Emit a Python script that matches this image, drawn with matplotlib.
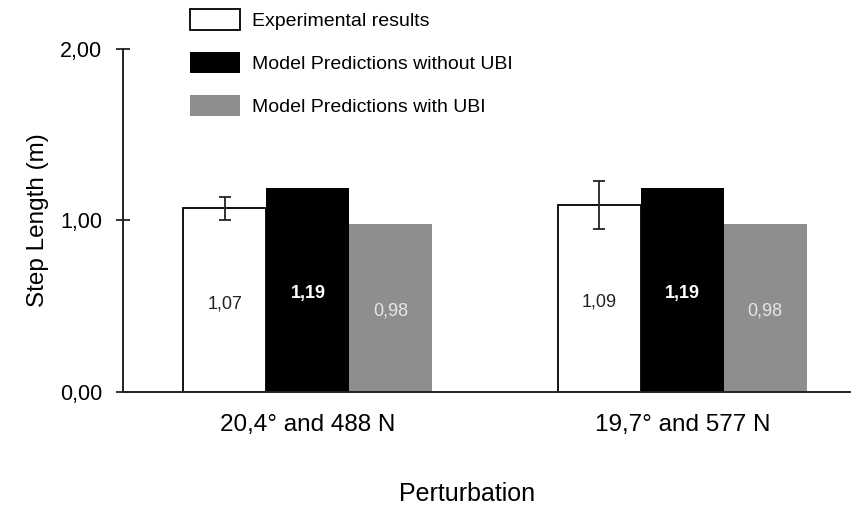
import numpy as np
import matplotlib
matplotlib.use("Agg")
import matplotlib.pyplot as plt
from matplotlib.patches import Patch

plt.rcParams['font.family'] = ['Liberation Sans', 'DejaVu Sans']

groups = ["20,4° and 488 N", "19,7° and 577 N"]
series = ["Experimental results", "Model Predictions without UBI", "Model Predictions with UBI"]
experimental = [1.07, 1.09]
experimental_err = [0.065, 0.14]
no_ubi = [1.19, 1.19]
with_ubi = [0.98, 0.98]
value_text = [["1,07", "1,09"], ["1,19", "1,19"], ["0,98", "0,98"]]

fig = plt.figure(figsize=(8.6, 5.09), dpi=100)
ax = fig.add_axes([0.143, 0.23, 0.845, 0.6737])

x = np.arange(len(groups))
w = 0.2216
faces = ["white", "black", "#8e8e8e"]
txtcol = ["#222222", "white", "#e6e6e6"]
weights = ["normal", "bold", "normal"]
vals = [experimental, no_ubi, with_ubi]

for i, v in enumerate(vals):
    xs = x + (i - 1) * w
    ax.bar(xs, v, w, color=faces[i], edgecolor="black" if i == 0 else faces[i],
           linewidth=1.3 if i == 0 else 0, zorder=2)
    for j in range(len(groups)):
        ax.text(xs[j], v[j] * 0.48, value_text[i][j], ha="center", va="center",
                fontsize=13, color=txtcol[i], fontweight=weights[i], zorder=4)

ax.errorbar(x - w, experimental, yerr=experimental_err, fmt="none", ecolor="#222222",
            elinewidth=1.3, capsize=4, capthick=1.3, zorder=3)

ax.set_ylim(0, 2)
ax.set_xlim(-0.494, 1.447)
ax.set_yticks([0, 1, 2])
ax.set_yticklabels(["0,00", "1,00", "2,00"], fontsize=15.5)
ax.set_xticks(x)
ax.set_xticklabels(groups, fontsize=17.5)
ax.tick_params(axis="x", length=0, pad=16)
ax.tick_params(axis="y", direction="inout", length=10, width=1.3, pad=10, color="#222222")
for s in ["top", "right"]:
    ax.spines[s].set_visible(False)
for s in ["left", "bottom"]:
    ax.spines[s].set_linewidth(1.4)
    ax.spines[s].set_color("#222222")

ax.set_ylabel("Step Length (m)", fontsize=17.5, labelpad=8)
ax.set_xlabel("Perturbation", fontsize=18)
ax.xaxis.set_label_coords(0.473, -0.262)

handles = [Patch(facecolor=faces[i], edgecolor="black" if i == 0 else faces[i],
                 linewidth=1.3 if i == 0 else 0) for i in range(3)]
fig.legend(handles, series, loc="upper left", bbox_to_anchor=(190 / 860, 1 - 9 / 509),
           frameon=False, fontsize=14, handlelength=2.58, handleheight=1.25,
           handletextpad=0.6, labelspacing=1.15, borderpad=0, borderaxespad=0)

fig.savefig("out.png", dpi=100)
